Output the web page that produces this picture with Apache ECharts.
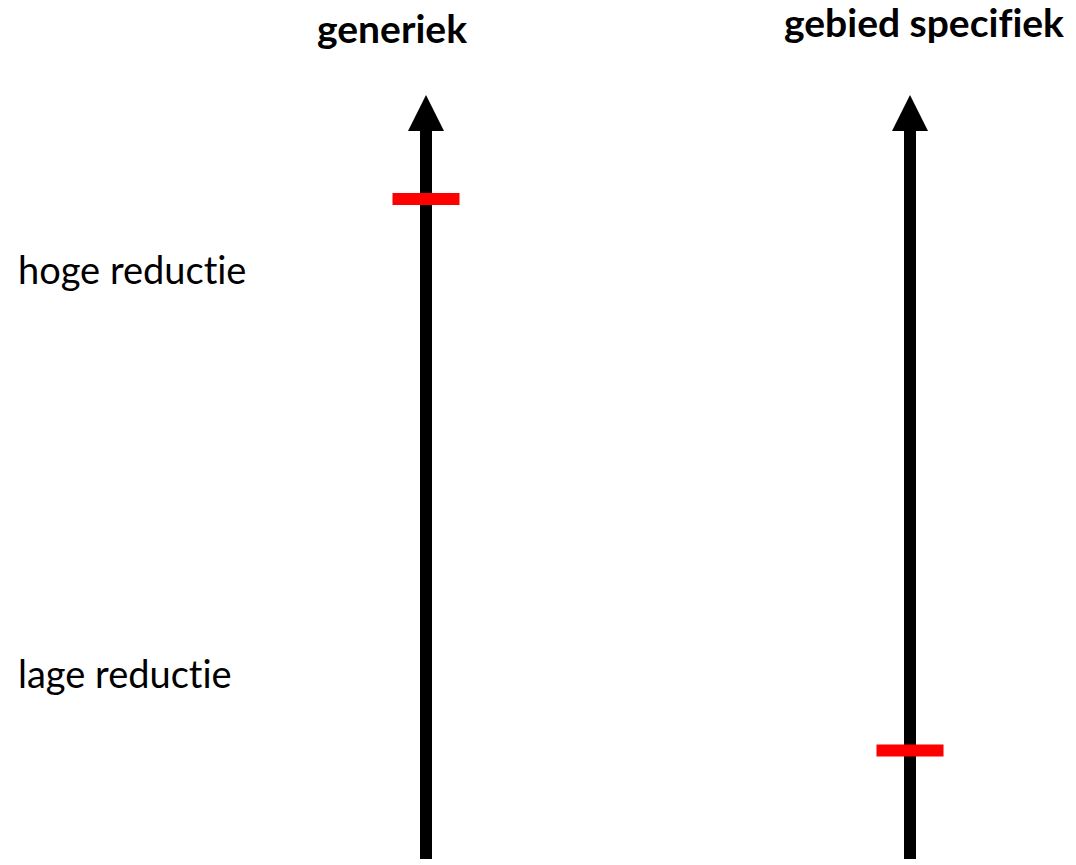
<!DOCTYPE html>
<html>
<head>
<meta charset="utf-8">
<style>
  html, body { margin: 0; padding: 0; background: #ffffff; }
  #chart { width: 1076px; height: 865px; }
  #chart text, #chart tspan {
    font-variant-ligatures: none !important;
    font-feature-settings: "liga" 0, "clig" 0, "dlig" 0 !important;
  }
</style>
<script src="https://cdn.jsdelivr.net/npm/echarts@6/dist/echarts.min.js"></script>
</head>
<body>
<div id="chart"></div>
<script>
// ---- data ----
const categories = ['generiek', 'gebied specifiek'];
// position of the red marker on each axis (0 = bottom of arrow, 1 = arrow tip)
const markValues = [0.864, 0.142];
const levelLabels = ['hoge reductie', 'lage reductie'];
const levelValues = [0.772, 0.244];

// ---- styling ----
const FONT = 'Lato, "Open Sans", sans-serif';
const chart = echarts.init(document.getElementById('chart'), null, { renderer: 'svg' });

const arrowData = categories.map((c, i) => [i]);
const markData = categories.map((c, i) => [i, markValues[i]]);

chart.setOption({
  animation: false,
  backgroundColor: '#ffffff',
  grid: { left: 426, right: 166, top: 95, bottom: 6 },
  xAxis: { type: 'value', min: 0, max: 1, show: false },
  yAxis: { type: 'value', min: 0, max: 1, show: false },
  series: [
    {
      type: 'custom',
      data: arrowData,
      clip: false,
      z: 2,
      renderItem: function (params, api) {
        const i = api.value(0);
        const base = api.coord([i, 0]);
        const tip = api.coord([i, 1]);
        const headH = 36, headW = 36, shaftW = 12;
        const hb = tip[1] + headH;
        return {
          type: 'group',
          children: [
            {
              type: 'rect',
              shape: { x: base[0] - shaftW / 2, y: hb - 1, width: shaftW, height: base[1] - hb + 1 },
              style: { fill: '#000000' }
            },
            {
              type: 'polygon',
              shape: { points: [[tip[0] - headW / 2, hb], [tip[0] + headW / 2, hb], [tip[0], tip[1]]] },
              style: { fill: '#000000' }
            }
          ]
        };
      }
    },
    {
      type: 'scatter',
      data: markData,
      symbol: 'rect',
      symbolSize: [67, 12],
      itemStyle: { color: '#ff0000', opacity: 1 },
      z: 3,
      silent: true
    }
  ]
});

// Text: column headers and level labels
const graphics = [];
const headerOffsets = [[-34, 28], [14, 22]];
categories.forEach((c, i) => {
  const p = chart.convertToPixel({ gridIndex: 0 }, [i, 1]);
  graphics.push({
    type: 'text',
    x: p[0] + headerOffsets[i][0],
    y: headerOffsets[i][1],
    style: {
      text: c,
      font: 'bold 39px ' + FONT,
      fill: '#000000',
      textAlign: 'center',
      textVerticalAlign: 'middle'
    }
  });
});
levelLabels.forEach((l, i) => {
  const p = chart.convertToPixel({ gridIndex: 0 }, [0, levelValues[i]]);
  graphics.push({
    type: 'text',
    x: 18,
    y: p[1],
    style: {
      text: l,
      font: '38px ' + FONT,
      fill: '#000000',
      textAlign: 'left',
      textVerticalAlign: 'middle'
    }
  });
});
chart.setOption({ graphic: graphics });
</script>
</body>
</html>
